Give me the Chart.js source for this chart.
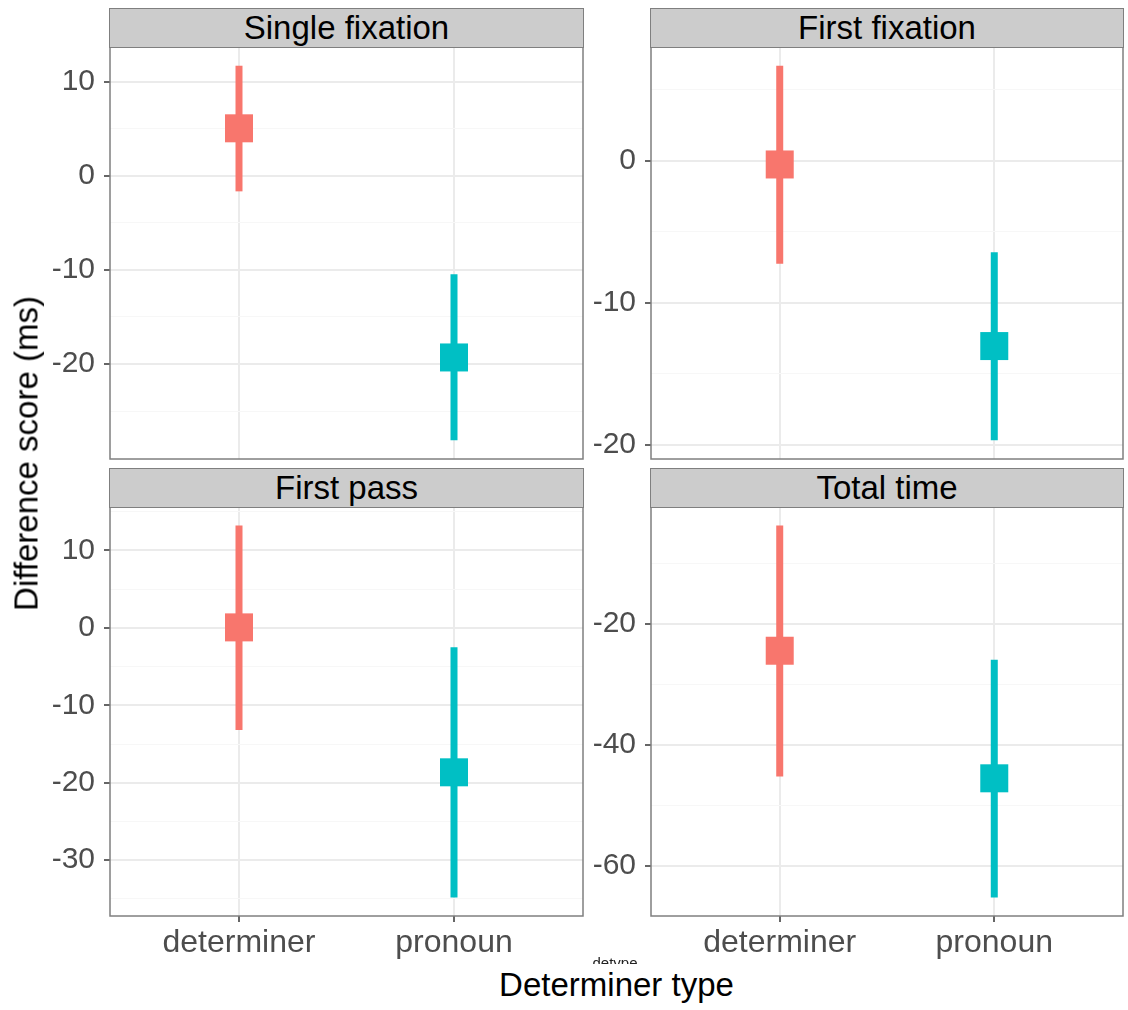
<!DOCTYPE html>
<html>
<head>
<meta charset="utf-8">
<script src="https://cdn.jsdelivr.net/npm/chart.js@4.4.1/dist/chart.umd.min.js"></script>
<style>
  body { margin: 0; background: #fff; width: 1128px; height: 1010px; position: relative; overflow: hidden;
         font-family: "Liberation Sans", Arial, Helvetica, sans-serif; }
  canvas.panel { position: absolute; }
  .strip { position: absolute; box-sizing: border-box; background: #cccccc; border: 1.5px solid #7f7f7f; }
  .strip span { position: absolute; left: 0; right: 0; text-align: center; font-size: 33px; line-height: 1; color: #000; white-space: nowrap; }
  .title { position: absolute; font-size: 33px; line-height: 1; color: #000; text-align: center; white-space: nowrap; }
  #legendTitle { position: absolute; left: 560px; width: 110px; top: 955px; height: 9px; overflow: hidden;
                 font-size: 15px; line-height: 16px; text-align: center; color: #222; }
</style>
</head>
<body>
<script>
// data
var panelTitles = ["Single fixation", "First fixation", "First pass", "Total time"];
var categories = ["determiner", "pronoun"];
var meanValues  = [[5.05, -19.3], [-0.26, -13.06], [0.06, -18.65], [-24.4, -45.5]];
var lowerValues = [[-1.65, -28.1], [-7.25, -19.7], [-13.2, -34.8], [-45.2, -65.2]];
var upperValues = [[11.7, -10.45], [6.7, -6.44], [13.2, -2.5], [-3.7, -25.9]];
var majorTicks = [[-20, -10, 0, 10], [-20, -10, 0], [-30, -20, -10, 0, 10], [-60, -40, -20]];
var minorTicks = [[-25, -15, -5, 5], [-15, -5, 5], [-35, -25, -15, -5, 5, 15], [-50, -30, -10]];

var colours = ["#F8766D", "#00BFC4"];
var fontFamily = '"Liberation Sans", Arial, Helvetica, sans-serif';

// panel boxes (plot area, page px)
var boxes = [
  {x: 110, y: 47, w: 473, h: 412, bottom: false},
  {x: 651, y: 47, w: 472, h: 412, bottom: false},
  {x: 110, y: 507, w: 473, h: 409, bottom: true},
  {x: 651, y: 507, w: 472, h: 409, bottom: true}
];

var borderPlugin = {
  id: 'panelBorder',
  afterDraw: function(chart) {
    var a = chart.chartArea, c = chart.ctx;
    c.save();
    c.strokeStyle = '#7f7f7f';
    c.lineWidth = 1.5;
    c.strokeRect(a.left, a.top, a.right - a.left, a.bottom - a.top);
    c.restore();
  }
};

function addStrip(i, box) {
  var d = document.createElement('div');
  d.className = 'strip';
  d.style.left = (box.x - 0.75) + 'px';
  d.style.top = (box.y - 39) + 'px';
  d.style.width = (box.w + 1.5) + 'px';
  d.style.height = '39.5px';
  var s = document.createElement('span');
  s.textContent = panelTitles[i];
  s.style.top = '2.2px';
  d.appendChild(s);
  document.body.appendChild(d);
}

function makePanel(i) {
  var box = boxes[i];
  var pad = 4, yw = 80, xh = box.bottom ? 50 : 0;
  var canvas = document.createElement('canvas');
  canvas.className = 'panel';
  canvas.width = yw + box.w + pad;
  canvas.height = pad + box.h + xh + (box.bottom ? 0 : pad);
  canvas.style.left = (box.x - yw) + 'px';
  canvas.style.top = (box.y - pad) + 'px';
  document.body.appendChild(canvas);

  var lo = Math.min.apply(null, lowerValues[i]);
  var hi = Math.max.apply(null, upperValues[i]);
  var ext = (hi - lo) * 0.05;
  var yTicks = majorTicks[i].concat(minorTicks[i]).sort(function(a, b) { return a - b; });
  var isMajor = function(v) { return majorTicks[i].indexOf(v) >= 0; };

  var datasets = [{
    data: categories.map(function(c, j) { return {x: j + 1, y: meanValues[i][j]}; }),
    pointStyle: 'rect',
    pointRadius: 19.8,
    pointBackgroundColor: colours,
    pointBorderWidth: 0,
    showLine: false
  }];
  categories.forEach(function(c, j) {
    datasets.push({
      data: [{x: j + 1, y: lowerValues[i][j]}, {x: j + 1, y: upperValues[i][j]}],
      showLine: true,
      borderColor: colours[j],
      borderWidth: 7,
      borderCapStyle: 'butt',
      pointRadius: 0
    });
  });

  new Chart(canvas, {
    type: 'scatter',
    data: {datasets: datasets},
    options: {
      responsive: false,
      animation: false,
      events: [],
      layout: {padding: {top: pad, right: pad, left: 0, bottom: box.bottom ? 0 : pad}, autoPadding: false},
      plugins: {legend: {display: false}, tooltip: {enabled: false}},
      scales: {
        x: {
          type: 'linear', min: 0.4, max: 2.6,
          afterBuildTicks: function(s) { s.ticks = [{value: 1}, {value: 2}]; },
          afterFit: function(s) { s.height = xh; s.paddingLeft = 0; s.paddingRight = 0; },
          border: {display: false},
          grid: {color: '#EBEBEB', lineWidth: 2, drawTicks: box.bottom, tickLength: 6, tickColor: '#333333', tickWidth: 1.5},
          ticks: {
            display: box.bottom, autoSkip: false, maxRotation: 0, padding: 2,
            callback: function(v) { return categories[v - 1]; },
            color: '#4D4D4D', font: {size: 32, family: fontFamily}
          }
        },
        y: {
          min: lo - ext, max: hi + ext,
          afterBuildTicks: function(s) { s.ticks = yTicks.map(function(v) { return {value: v}; }); },
          afterFit: function(s) { s.width = yw; s.paddingTop = 0; s.paddingBottom = 0; },
          border: {display: false},
          grid: {
            color: function(ctx) { return isMajor(ctx.tick.value) ? '#EBEBEB' : '#F7F7F7'; },
            lineWidth: function(ctx) { return isMajor(ctx.tick.value) ? 2 : 1; },
            tickLength: 6,
            tickColor: function(ctx) { return isMajor(ctx.tick.value) ? '#333333' : 'rgba(0,0,0,0)'; },
            tickWidth: 1.5
          },
          ticks: {
            autoSkip: false, padding: 9,
            callback: function(v) { return isMajor(v) ? String(v) : ''; },
            color: '#4D4D4D', font: {size: 30, family: fontFamily}
          }
        }
      }
    },
    plugins: [borderPlugin]
  });
  addStrip(i, box);
}

for (var i = 0; i < boxes.length; i++) makePanel(i);

// axis titles
var yTitle = document.createElement('div');
yTitle.className = 'title';
yTitle.textContent = 'Difference score (ms)';
yTitle.style.width = '600px';
yTitle.style.height = '33px';
yTitle.style.left = (25.6 - 300) + 'px';
yTitle.style.top = (453 - 16.5) + 'px';
yTitle.style.transform = 'rotate(-90deg)';
document.body.appendChild(yTitle);

var xTitle = document.createElement('div');
xTitle.className = 'title';
xTitle.textContent = 'Determiner type';
xTitle.style.width = '1000px';
xTitle.style.left = '116.5px';
xTitle.style.top = '968px';
document.body.appendChild(xTitle);

var legendTitle = document.createElement('div');
legendTitle.id = 'legendTitle';
legendTitle.textContent = 'detype';
document.body.appendChild(legendTitle);
</script>
</body>
</html>
